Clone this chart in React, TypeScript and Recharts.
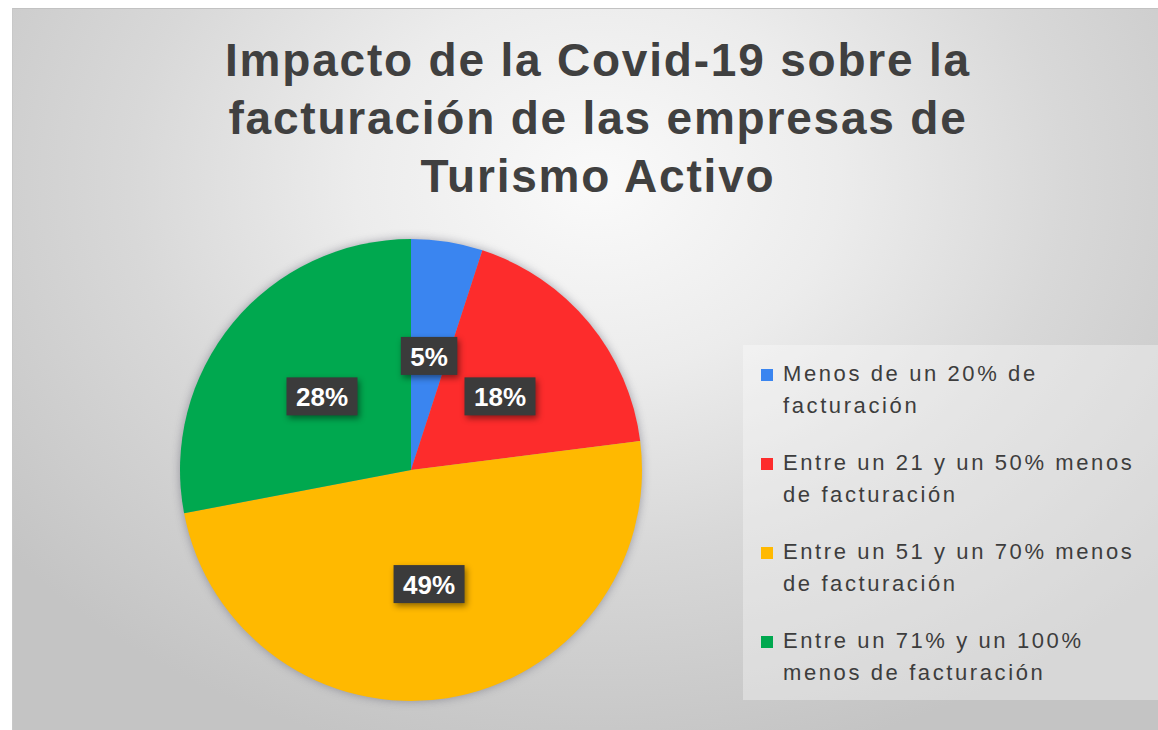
import { PieChart, Pie, Cell, Legend } from "recharts"

// Reparto de empresas según la caída de facturación
const categories = [
  "Menos de un 20% de facturación",
  "Entre un 21 y un 50% menos de facturación",
  "Entre un 51 y un 70% menos de facturación",
  "Entre un 71% y un 100% menos de facturación",
]
const shares = [5, 18, 49, 28]
const colors = ["#3a85f0", "#fd2c2c", "#ffb900", "#00a84f"]

const chartData = categories.map((name, i) => ({ name, value: shares[i] }))

const RADIAN = Math.PI / 180

function renderLabel(props: any) {
  const { cx, cy, midAngle, outerRadius, value } = props
  const r = outerRadius * 0.5
  const x = cx + r * Math.cos(-midAngle * RADIAN)
  const y = cy + r * Math.sin(-midAngle * RADIAN)
  const text = `${value}%`
  const w = String(value).length * 14.5 + 23 + 19
  const h = 38
  return (
    <g>
      <rect
        x={x - w / 2}
        y={y - h / 2}
        width={w}
        height={h}
        fill="#3b3b3b"
        style={{ filter: "drop-shadow(2px 3px 3px rgba(0,0,0,0.45))" }}
      />
      <text
        x={x}
        y={y + 1}
        fill="#ffffff"
        textAnchor="middle"
        dominantBaseline="central"
        fontFamily="'Liberation Sans', Arial, sans-serif"
        fontWeight="bold"
        fontSize={26}
      >
        {text}
      </text>
    </g>
  )
}

// legend keeps the data order (blue, red, yellow, green)
function renderLegend() {
  return (
    <div
      style={{
        width: 415,
        height: 355,
        boxSizing: "border-box",
        paddingTop: 13,
        background: "rgba(255,255,255,0.33)",
        fontFamily: "'Liberation Sans', Arial, sans-serif",
        fontSize: 22,
        lineHeight: "32px",
        letterSpacing: 2.6,
        color: "#3d3d3d",
      }}
    >
      {categories.map((name, i) => (
        <div key={name} style={{ position: "relative", paddingLeft: 40, marginBottom: 25, width: 362 }}>
          <span
            style={{
              position: "absolute",
              left: 18,
              top: 11,
              width: 12,
              height: 12,
              background: colors[i],
            }}
          />
          {name}
        </div>
      ))}
    </div>
  )
}

export default function App() {
  return (
    <div style={{ position: "fixed", inset: 0, background: "#ffffff", overflow: "hidden" }}>
      <style>{`.recharts-pie { filter: drop-shadow(0 0 5px rgba(70,70,90,0.45)); }`}</style>
      <div
        style={{
          position: "absolute",
          left: 12,
          top: 8,
          width: 1146,
          height: 722,
          overflow: "hidden",
          borderTop: "1px solid #c2c2c2",
          borderLeft: "1px solid #c8c8c8",
          boxSizing: "border-box",
          background:
            "radial-gradient(ellipse 66% 82% at 51% 24%, #fafafa 0%, #ececec 32%, #d8d8d8 62%, #c4c4c4 100%)",
        }}
      >
        <div
          style={{
            position: "absolute",
            left: 24,
            top: 22,
            width: 1122,
            textAlign: "center",
            fontFamily: "'Liberation Sans', Arial, sans-serif",
            fontWeight: "bold",
            fontSize: 46,
            letterSpacing: 1.8,
            lineHeight: "58px",
            color: "#404040",
          }}
        >
          Impacto de la Covid-19 sobre la
          <br />
          facturación de las empresas de
          <br />
          Turismo Activo
        </div>
        <PieChart
          width={1145}
          height={721}
          margin={{ top: 0, right: 0, bottom: 0, left: 0 }}
          style={{ position: "absolute", left: 0, top: 0 }}
        >
          <Pie
            data={chartData}
            dataKey="value"
            nameKey="name"
            cx={398}
            cy={461}
            outerRadius={231}
            startAngle={90}
            endAngle={-270}
            stroke="none"
            labelLine={false}
            label={renderLabel}
            isAnimationActive={false}
          >
            {chartData.map((d, i) => (
              <Cell key={d.name} fill={colors[i]} />
            ))}
          </Pie>
          <Legend
            content={renderLegend}
            wrapperStyle={{ position: "absolute", left: 730, top: 336, width: 415, height: 355 }}
          />
        </PieChart>
      </div>
    </div>
  )
}
